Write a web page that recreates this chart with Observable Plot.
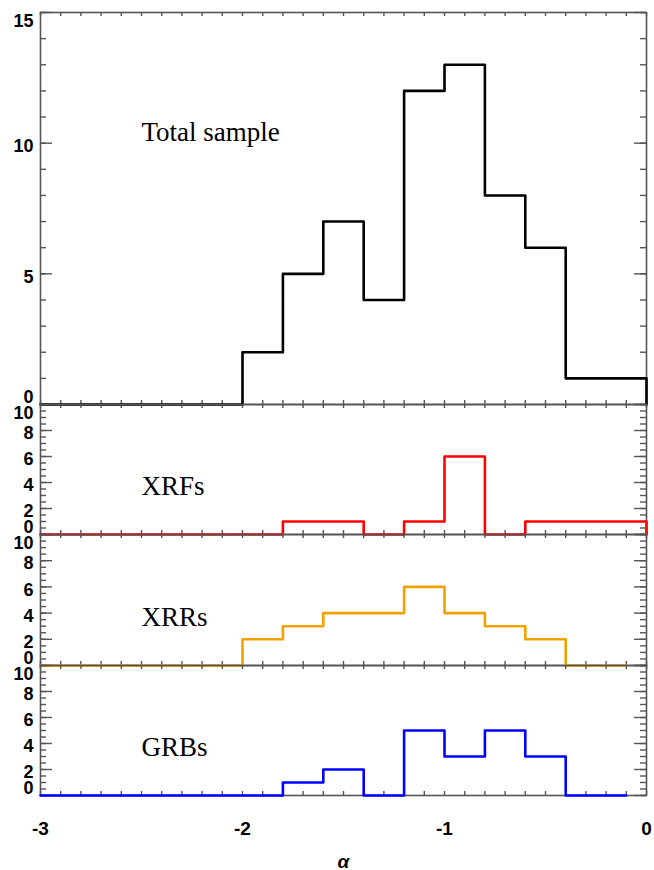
<!DOCTYPE html>
<html>
<head>
<meta charset="utf-8">
<script src="https://cdn.jsdelivr.net/npm/d3@7"></script>
<script src="https://cdn.jsdelivr.net/npm/@observablehq/plot@0.6"></script>
<style>
  html, body { margin: 0; padding: 0; background: white; }
  #chart { position: relative; width: 654px; height: 870px; }
  #chart svg { position: absolute; left: 0; }
</style>
</head>
<body>
<div id="chart"></div>
<script>
// Lower edge of each 0.2-wide alpha bin
const binStart = [-3.0, -2.8, -2.6, -2.4, -2.2, -2.0, -1.8, -1.6, -1.4, -1.2, -1.0, -0.8, -0.6, -0.4, -0.2];

// Counts per bin
const totalCounts = [0, 0, 0, 0, 0, 2, 5, 7, 4, 12, 13, 8, 6, 1, 1];
const xrfCounts   = [0, 0, 0, 0, 0, 0, 1, 1, 0, 1, 6, 0, 1, 1, 1];
const xrrCounts   = [0, 0, 0, 0, 0, 2, 3, 4, 4, 6, 4, 3, 2, 0, 0];
const grbCounts   = [0, 0, 0, 0, 0, 0, 1, 2, 0, 5, 3, 5, 3, 0, 0];

// Where each outline stops
const lineEndX = [0, 0, -0.1, -0.1];
const lineEndY = [0, 0, 0, 0];

const panelNames  = ["Total sample", "XRFs", "XRRs", "GRBs"];
const panelColors = ["#000000", "#ff0000", "#f2a200", "#0000ff"];
const labelX = [-2.5, -2.5, -2.5, -2.5];
const labelY = [10.4, 3.7, 3.7, 3.7];

// Axis ticks and labels
const xTicks = [-3, -2, -1, 0];
const xTickLabels = ["-3", "-2", "-1", "0"];
const totalYTicks = [0, 5, 10, 15];
const subYTicks = [0, 2, 4, 6, 8, 10];
const xLabel = "α";

const xDomain = [-3, 0];
const xMinor = d3.range(-3, 0.0001, 0.1).map(v => Math.round(v * 10) / 10);

const W = 654, ML = 40, MR = 8;
const frameW = W - ML - MR;
const axisColor = "#555";
const tickFont = {fontSize: 18, fontWeight: "bold", fontFamily: "Liberation Sans, Arial, sans-serif", fill: "black"};

function stairs(counts, endX, endY) {
  return binStart.map((x, i) => ({x, y: counts[i]})).concat([{x: endX, y: endY}]);
}

function panel(i, {top, height, marginTop, marginBottom, yDomain, yMajor, yMinor, xAxisText}) {
  const counts = [totalCounts, xrfCounts, xrrCounts, grbCounts][i];
  const frameH = height - marginTop - marginBottom;
  const yMid = yMajor.slice(1, -1);
  const yTop = [yMajor[yMajor.length - 1]];
  const yBottom = [yMajor[0]];
  const tickStyle = {stroke: axisColor, strokeWidth: 1.4};
  const marks = [
    Plot.frame({stroke: axisColor, strokeWidth: 1.6}),
    // inward ticks: left, right, top, bottom
    Plot.tickY(yMinor, {y: d => d, insetRight: frameW - 6, ...tickStyle}),
    Plot.tickY(yMajor, {y: d => d, insetRight: frameW - 12, ...tickStyle}),
    Plot.tickY(yMinor, {y: d => d, insetLeft: frameW - 6, ...tickStyle}),
    Plot.tickY(yMajor, {y: d => d, insetLeft: frameW - 12, ...tickStyle}),
    Plot.tickX(xMinor, {x: d => d, insetBottom: frameH - 4, ...tickStyle}),
    Plot.tickX(xMinor, {x: d => d, insetTop: frameH - 4, ...tickStyle}),
    // y tick labels; the end labels are nudged inside the panel
    Plot.text(yMid, {y: d => d, text: d => String(d), frameAnchor: "left", textAnchor: "end", dx: -7, dy: 3, ...tickFont}),
    Plot.text(yTop, {y: d => d, text: d => String(d), frameAnchor: "left", textAnchor: "end", dx: -7, dy: 9, ...tickFont}),
    Plot.text(yBottom, {y: d => d, text: d => String(d), frameAnchor: "left", textAnchor: "end", dx: -7, dy: -7, ...tickFont}),
    Plot.line(stairs(counts, lineEndX[i], lineEndY[i]), {
      x: "x", y: "y", curve: "step-after",
      stroke: panelColors[i], strokeWidth: 2.6
    }),
    Plot.text([panelNames[i]], {
      x: labelX[i], y: labelY[i], text: d => d,
      textAnchor: "start", lineAnchor: "middle",
      fontSize: 27, fontFamily: "Liberation Serif, Times New Roman, serif", fill: "black"
    })
  ];
  if (xAxisText) {
    marks.push(
      Plot.text(xTicks, {x: d => d, text: (d, j) => xTickLabels[j], frameAnchor: "bottom",
        lineAnchor: "middle", dy: 33, ...tickFont, fontSize: 19}),
      Plot.text([xLabel], {frameAnchor: "bottom", lineAnchor: "middle", dy: 66, text: d => d,
        fontSize: 19, fontStyle: "italic", fontWeight: "bold",
        fontFamily: "Liberation Sans, Arial, sans-serif", fill: "black"})
    );
  }
  const svg = Plot.plot({
    width: W,
    height,
    marginLeft: ML,
    marginRight: MR,
    marginTop,
    marginBottom,
    style: {background: "transparent", overflow: "visible"},
    x: {domain: xDomain, axis: null},
    y: {domain: yDomain, axis: null},
    marks
  });
  svg.style.top = top + "px";
  return svg;
}

const chart = document.getElementById("chart");
const subMinor = d3.range(0, 10.0001, 0.5);
chart.append(panel(0, {top: 0, height: 414, marginTop: 12, marginBottom: 10,
  yDomain: [0, 15], yMajor: totalYTicks, yMinor: d3.range(0, 15.0001, 1)}));
chart.append(panel(1, {top: 394, height: 150, marginTop: 10, marginBottom: 10,
  yDomain: [0, 10], yMajor: subYTicks, yMinor: subMinor}));
chart.append(panel(2, {top: 524, height: 151, marginTop: 10, marginBottom: 10,
  yDomain: [0, 10], yMajor: subYTicks, yMinor: subMinor}));
chart.append(panel(3, {top: 655, height: 215, marginTop: 10, marginBottom: 75,
  yDomain: [0, 10], yMajor: subYTicks, yMinor: subMinor, xAxisText: true}));
</script>
</body>
</html>
